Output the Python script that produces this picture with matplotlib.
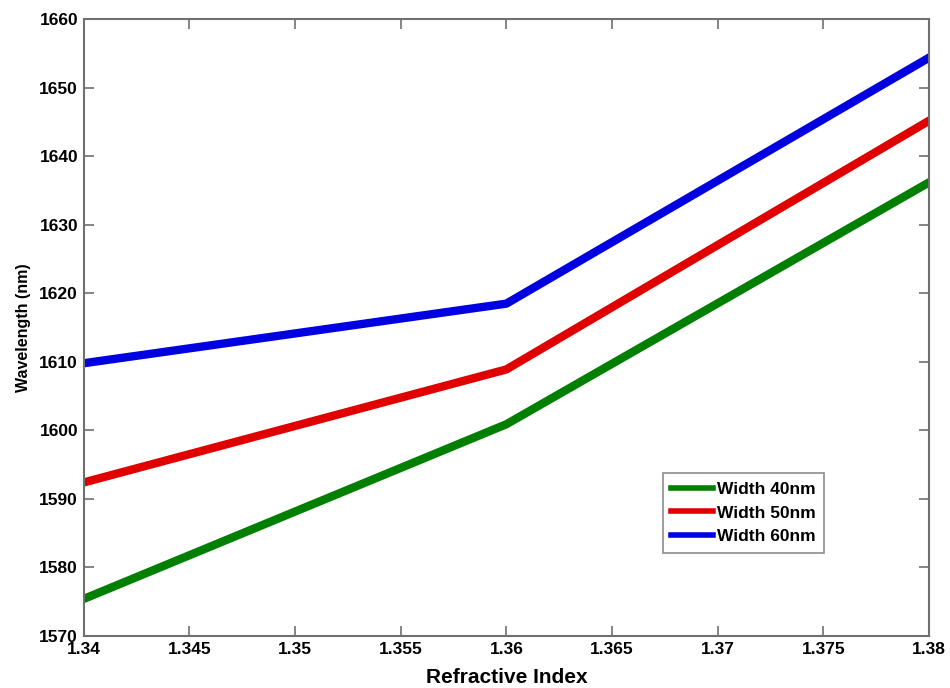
import numpy as np
import matplotlib.pyplot as plt

plt.rcParams['font.family'] = ['Liberation Sans', 'DejaVu Sans']
plt.rcParams['font.weight'] = 'bold'

# refractive index vs resonance wavelength
ri = [1.34, 1.36, 1.38]
w40 = [1575.4, 1600.9, 1636.2]
w50 = [1592.4, 1608.9, 1645.2]
w60 = [1609.8, 1618.5, 1654.4]
labels = ['Width 40nm', 'Width 50nm', 'Width 60nm']
xticks = [1.34, 1.345, 1.35, 1.355, 1.36, 1.365, 1.37, 1.375, 1.38]
xticklabels = ['1.34', '1.345', '1.35', '1.355', '1.36', '1.365', '1.37', '1.375', '1.38']
yticks = [1570, 1580, 1590, 1600, 1610, 1620, 1630, 1640, 1650, 1660]

fig = plt.figure(figsize=(9.5, 6.88), dpi=100)
ax = fig.add_axes([0.088, 0.0756, 0.890, 0.8964])

ax.plot(ri, w40, color='#007f00', lw=6, label=labels[0])
ax.plot(ri, w50, color='#e00000', lw=6, label=labels[1])
ax.plot(ri, w60, color='#0000e0', lw=6, label=labels[2])

ax.set_xlim(1.34, 1.38)
ax.set_ylim(1570, 1660)
ax.set_xticks(xticks)
ax.set_xticklabels(xticklabels)
ax.set_yticks(yticks)
ax.tick_params(direction='in', length=7, width=1.2, color='#707070',
               labelsize=12.5, top=True, right=True, pad=4)
for sp in ax.spines.values():
    sp.set_color('#707070')
    sp.set_linewidth(1.5)

ax.set_xlabel('Refractive Index', fontsize=15, fontweight='bold', labelpad=8.5)
ax.set_ylabel('Wavelength (nm)', fontsize=11.5, fontweight='bold')
ax.yaxis.set_label_coords(-0.062, 0.5)

leg = ax.legend(loc='lower left', bbox_to_anchor=(0.685, 0.1345), fontsize=12.5,
                frameon=True, fancybox=False, handlelength=2.4, handletextpad=0.2,
                borderpad=0.5, borderaxespad=0, labelspacing=0.5)
leg.get_frame().set_edgecolor('#707070')
leg.get_frame().set_linewidth(1.2)
for line in leg.get_lines():
    line.set_linewidth(4)

plt.savefig('out.png', dpi=100)
